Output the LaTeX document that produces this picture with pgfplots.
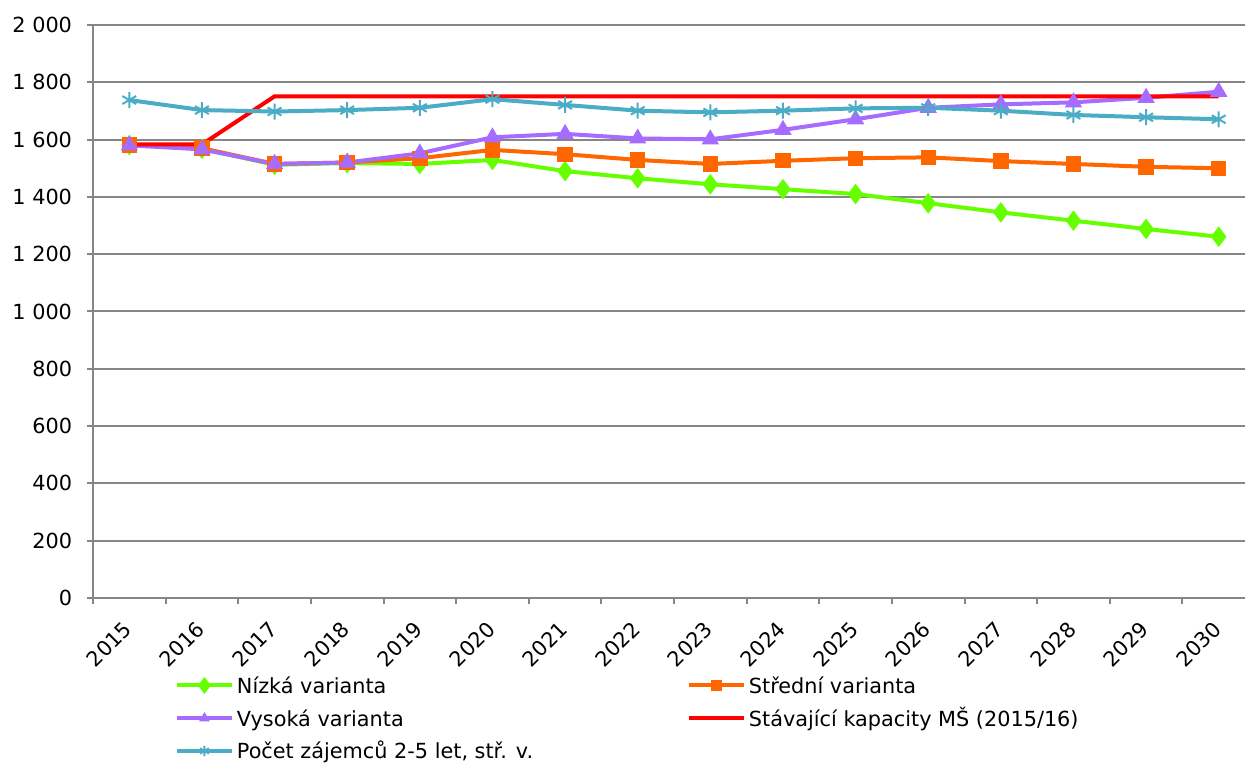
\documentclass[border=0pt]{standalone}
\usepackage{pgfplots}
\pgfplotsset{compat=1.18}
\usepackage{fontspec}
\setmainfont{DejaVu Sans}
\definecolor{cgreen}{RGB}{102,255,0}
\definecolor{corange}{RGB}{255,102,0}
\definecolor{cpurple}{RGB}{166,107,255}
\definecolor{cred}{RGB}{255,0,0}
\definecolor{cteal}{RGB}{75,172,198}
\definecolor{cgrid}{RGB}{134,134,134}
\newcommand{\lf}{\fontsize{10.4pt}{12pt}\selectfont}
\begin{document}
\begin{tikzpicture}
\begin{axis}[
  scale only axis, width=581pt, height=286.5pt,
  xmin=-0.5, xmax=15.5, ymin=0, ymax=2000,
  axis x line*=bottom, axis y line*=left,
  axis line style={cgrid, line width=1pt},
  tick align=outside,
  xtick={0,...,15},
  xticklabels={2015,2016,2017,2018,2019,2020,2021,2022,2023,2024,2025,2026,2027,2028,2029,2030},
  major x tick style={draw=none},
  minor xtick={-0.5,0.5,...,15.5},
  minor x tick style={cgrid, line width=1pt},
  minor tick length=3pt,
  major tick length=3pt,
  ytick={0,200,...,2000},
  yticklabels={0,200,400,600,800,1 000,1 200,1 400,1 600,1 800,2 000},
  y tick style={cgrid, line width=1pt},
  ymajorgrids, grid style={cgrid, line width=1pt},
  tick label style={font=\lf},
  yticklabel style={anchor=east, inner sep=0pt, xshift=-6.5pt},
  xticklabel style={yshift=-10pt, rotate=45, anchor=east, inner sep=0pt},
  line width=2pt,
  legend columns=2,
  legend cell align=left,
  legend style={draw=none, font=\lf, at={(0.0688,-0.1350)}, anchor=north west,
    inner sep=0pt, column sep=1.5pt, row sep=5.875pt,
    nodes={inner sep=0pt, text height=8pt, text depth=2.5pt}},
  legend image code/.code={\draw[mark repeat=2,mark phase=2,#1,mark size=2.6pt] plot coordinates {(0pt,1.2pt) (13.75pt,1.2pt) (27.5pt,1.2pt)};},
]
\coordinate (bl) at (rel axis cs:0,0);
\coordinate (tr) at (rel axis cs:1,1);
\addplot[cgreen, mark=diamond*, mark size=3.5pt, mark options={solid}] coordinates {
(0,1581) (1,1568) (2,1512) (3,1518) (4,1515) (5,1529) (6,1490) (7,1465) (8,1444) (9,1427) (10,1410) (11,1378) (12,1346) (13,1317) (14,1288) (15,1261)};
\addlegendentry{\makebox[223.5pt][l]{Nízká varianta}}
\addplot[corange, mark=square*, mark size=3.6pt, mark options={line width=0.5pt}] coordinates {
(0,1581) (1,1570) (2,1515) (3,1520) (4,1535) (5,1564) (6,1549) (7,1529) (8,1515) (9,1526) (10,1535) (11,1538) (12,1525) (13,1515) (14,1505) (15,1500)};
\addlegendentry{Střední varianta}
\addplot[cpurple, mark=triangle*, mark size=4.5pt, mark options={line width=0.5pt}] coordinates {
(0,1580) (1,1566) (2,1515) (3,1520) (4,1552) (5,1608) (6,1620) (7,1604) (8,1601) (9,1634) (10,1671) (11,1711) (12,1723) (13,1730) (14,1746) (15,1767)};
\addlegendentry{\makebox[223.5pt][l]{Vysoká varianta}}
\addplot[cred, mark=none] coordinates {
(0,1583) (1,1583) (2,1751) (3,1751) (4,1751) (5,1751) (6,1751) (7,1751) (8,1751) (9,1751) (10,1751) (11,1751) (12,1751) (13,1751) (14,1751) (15,1751)};
\addlegendentry{Stávající kapacity MŠ (2015/16)}
\addplot[cteal, mark=asterisk, mark size=4pt, mark options={line width=1pt}] coordinates {
(0,1738) (1,1703) (2,1698) (3,1703) (4,1711) (5,1741) (6,1721) (7,1701) (8,1695) (9,1701) (10,1709) (11,1711) (12,1701) (13,1686) (14,1678) (15,1671)};
\addlegendentry{\makebox[223.5pt][l]{Počet zájemců 2-5 let, stř. v.}}
\end{axis}
\pgfresetboundingbox
\path[use as bounding box] ([xshift=-46.5pt,yshift=-83.5pt]bl) rectangle ([xshift=-5pt,yshift=12.5pt]tr);
\end{tikzpicture}
\end{document}
